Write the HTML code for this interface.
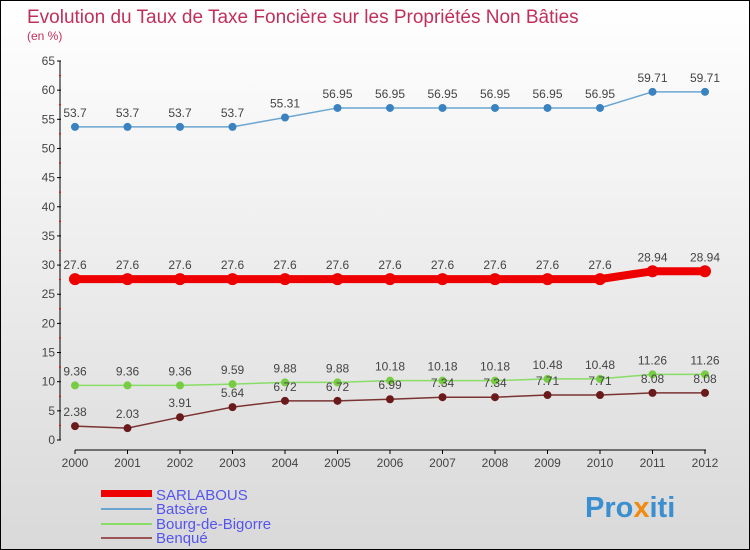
<!DOCTYPE html>
<html><head><meta charset="utf-8"><style>
body{margin:0}
#c{width:748px;height:548px;border:1px solid #000;background:linear-gradient(#fff,#d9d9d9);position:relative;font-family:"Liberation Sans",sans-serif}
</style></head><body>
<div id="c">
<svg id="s" width="748" height="548" style="position:absolute;left:0;top:0">
<text x="26" y="22" font-size="19" fill="#c0305a">Evolution du Taux de Taxe Foncière sur les Propriétés Non Bâties</text>
<text x="26" y="39" font-size="12" fill="#c0305a">(en %)</text>
<g id="axes"></g><g id="series"></g>
<g>
<rect x="100" y="489" width="51" height="7" fill="#e00"/>
<text x="155" y="499" font-size="15" fill="#5555ee">SARLABOUS</text>
<rect x="100" y="507" width="51" height="2" fill="#6aa6cf"/>
<text x="155" y="513" font-size="15" fill="#5555ee">Batsère</text>
<rect x="100" y="522" width="51" height="2" fill="#88dd66"/>
<text x="155" y="528" font-size="15" fill="#5555ee">Bourg-de-Bigorre</text>
<rect x="100" y="536" width="51" height="2" fill="#995555"/>
<text x="155" y="542" font-size="15" fill="#5555ee">Benqué</text>
</g>
<text x="584" y="516" font-size="29" font-weight="bold" fill="#3a8fd0">Pro<tspan fill="#f08a10">x</tspan>iti</text>
</svg></div>
<script>
const years=[2000,2001,2002,2003,2004,2005,2006,2007,2008,2009,2010,2011,2012];
const yTicks=[0,5,10,15,20,25,30,35,40,45,50,55,60,65];
const sarlabous=[27.6,27.6,27.6,27.6,27.6,27.6,27.6,27.6,27.6,27.6,27.6,28.94,28.94];
const batsere=[53.7,53.7,53.7,53.7,55.31,56.95,56.95,56.95,56.95,56.95,56.95,59.71,59.71];
const bourg=[9.36,9.36,9.36,9.59,9.88,9.88,10.18,10.18,10.18,10.48,10.48,11.26,11.26];
const benque=[2.38,2.03,3.91,5.64,6.72,6.72,6.99,7.34,7.34,7.71,7.71,8.08,8.08];
const NS="http://www.w3.org/2000/svg";
const X=i=>74+i*52.5, Y=v=>439-v*(379/65);
function mk(t,a,p){const e=document.createElementNS(NS,t);for(const k in a)e.setAttribute(k,a[k]);p.appendChild(e);return e;}
const ax=document.getElementById('axes'),sg=document.getElementById('series');
mk('line',{x1:59,y1:Y(65),x2:59,y2:Y(0),stroke:'#000','stroke-width':1},ax);
mk('line',{x1:74,y1:449,x2:705,y2:449,stroke:'#000','stroke-width':1},ax);
yTicks.forEach(v=>{mk('line',{x1:56,x2:60,y1:Y(v),y2:Y(v),stroke:'#000'},ax);
 if(v<65)mk('line',{x1:58,x2:60,y1:Y(v+2.5),y2:Y(v+2.5),stroke:'#e00'},ax);
 const t=mk('text',{x:54,y:Y(v)+4,'font-size':12,'text-anchor':'end',fill:'#444'},ax);t.textContent=v;
 
 });
years.forEach((y,i)=>{mk('line',{x1:X(i),x2:X(i),y1:449,y2:453,stroke:'#000'},ax);
 const t=mk('text',{x:X(i),y:466,'font-size':12,'text-anchor':'middle',fill:'#444'},ax);t.textContent=y;
 
 });
function series(vals,color,dot,w,r,name){
 const g=mk('g',{},sg);
 
 
 mk('polyline',{points:vals.map((v,i)=>X(i)+','+Y(v)).join(' '),fill:'none',stroke:color,'stroke-width':w},g);
 vals.forEach((v,i)=>{const c=mk('circle',{cx:X(i),cy:Y(v),r:r,fill:dot},g);
  
  
  const t=mk('text',{x:X(i),y:Y(v)-10,'font-size':12,'text-anchor':'middle',fill:'#444'},g);
  t.textContent=String(v);
  
  });
}
series(batsere,'#6aa6cf','#3b82c0',1.5,4,'batsere');
series(sarlabous,'#e00','#e00',8,6,'sarlabous');
series(bourg,'#88dd66','#77cc44',1.5,4,'bourg');
series(benque,'#7a3333','#6a1a1a',1.5,4,'benque');
</script>
</body></html>
